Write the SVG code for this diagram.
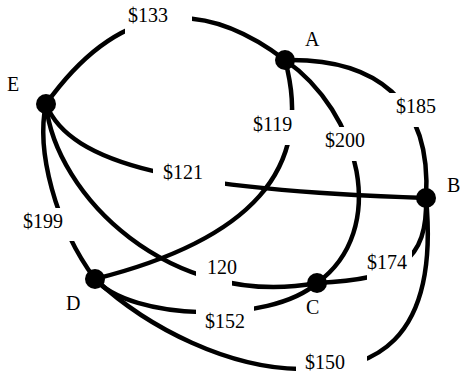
<svg xmlns="http://www.w3.org/2000/svg" width="461" height="375" viewBox="0 0 461 375">
<style>
.e{fill:none;stroke:#000;stroke-width:4.5}
.bg{fill:#fff;stroke:none}
.t{font-family:"Liberation Serif","Times New Roman",serif;font-size:20px;fill:#000}
.n{fill:#000}
</style>
<rect width="461" height="375" fill="#fff"/>
<g id="connectors">
<path id="e-EA" class="e" d="M46,104 Q150.5,-42 285,60"/>
<path id="e-AB" class="e" d="M285,60 C375,58 432,100 426,198"/>
<path id="e-AC" class="e" d="M285,60 C360,112 390,230 317,283"/>
<path id="e-AD" class="e" d="M285,60 C315,170 250,240 95,279"/>
<path id="e-EB" class="e" d="M46,104 C70,165 180,190 426,198"/>
<path id="e-ED" class="e" d="M46,104 C36,150 55,225 95,279"/>
<path id="e-EC" class="e" d="M46,104 C55,195 170,310 317,283"/>
<path id="e-DC" class="e" d="M95,279 C130,320 270,325 317,283"/>
<path id="e-CB" class="e" d="M317,283 C400,280 428,260 426,198"/>
<path id="e-DB" class="e" d="M95,279 C150,330 230,368 300,369 C370,372 440,345 426,198"/>
<g id="edge-labels">
<rect class="bg" x="125" y="0" width="67" height="42"/>
<text class="t" x="128" y="22">$133</text>
<rect class="bg" x="385" y="93" width="55" height="34"/>
<text class="t" x="396" y="113">$185</text>
<rect class="bg" x="320" y="127" width="50" height="34"/>
<text class="t" x="325" y="147">$200</text>
<rect class="bg" x="250" y="110" width="50" height="35"/>
<text class="t" x="253" y="131">$119</text>
<rect class="bg" x="153" y="158" width="72" height="34"/>
<text class="t" x="163" y="179">$121</text>
<rect class="bg" x="18" y="208" width="57" height="33"/>
<text class="t" x="23" y="228">$199</text>
<rect class="bg" x="196" y="256" width="36" height="36"/>
<text class="t" x="207" y="274">120</text>
<rect class="bg" x="196" y="300" width="58" height="34"/>
<text class="t" x="205" y="328">$152</text>
<rect class="bg" x="367" y="250" width="45" height="35"/>
<text class="t" x="367" y="269">$174</text>
<rect class="bg" x="296" y="346" width="71" height="29"/>
<text class="t" x="305" y="369">$150</text>
</g>
</g>
<g id="node-A"><circle class="n" cx="285" cy="60" r="10"/><text class="t" x="305" y="46">A</text></g>
<g id="node-B"><circle class="n" cx="426" cy="198" r="10"/><text class="t" x="447" y="192">B</text></g>
<g id="node-C"><circle class="n" cx="317" cy="283" r="10"/><text class="t" x="306" y="314">C</text></g>
<g id="node-D"><circle class="n" cx="95" cy="279" r="10"/><text class="t" x="66" y="310">D</text></g>
<g id="node-E"><circle class="n" cx="46" cy="104" r="10"/><text class="t" x="7" y="91">E</text></g>
</svg>
